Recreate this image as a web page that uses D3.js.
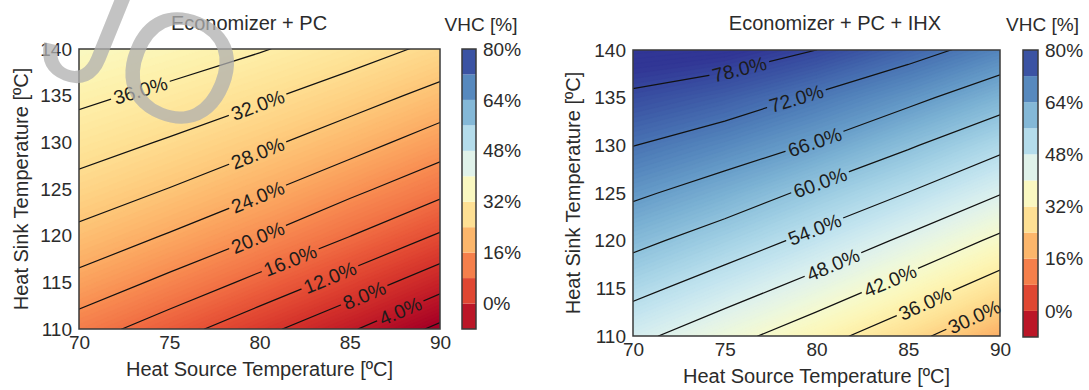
<!DOCTYPE html>
<html>
<head>
<meta charset="utf-8">
<script src="https://cdn.jsdelivr.net/npm/d3@7"></script>
<style>
  body { margin: 0; background: #fff; }
  text { font-family: "Liberation Sans", Arial, sans-serif; }
</style>
</head>
<body>
<svg id="chart" width="1089" height="390"></svg>
<script>
// Grid axes of both maps
const sourceTemps = [70, 75, 80, 85, 90]
const sinkTemps = [110, 115, 120, 125, 130, 135, 140]

// VHC [%], one row per sink temperature (110 -> 140),
// columns follow sourceTemps
const vhcPC = [
  [18.0, 13.8, 9.2, 4.5, -0.9],
  [22.7, 19.0, 14.9, 10.4, 5.6],
  [26.9, 23.7, 20.1, 16.1, 11.6],
  [30.6, 27.9, 24.7, 21.0, 17.2],
  [33.9, 31.6, 28.9, 25.7, 22.0],
  [36.9, 35.0, 32.7, 29.9, 26.7],
  [40.0, 38.3, 36.3, 33.9, 31.0]
]
const vhcPCIHX = [
  [49.5, 44.1, 38.3, 31.9, 24.4],
  [55.7, 50.9, 45.6, 39.6, 33.0],
  [61.5, 57.2, 52.4, 46.9, 40.8],
  [67.0, 63.3, 58.7, 53.9, 48.3],
  [72.1, 69.1, 65.5, 60.6, 55.4],
  [77.1, 74.8, 71.3, 67.4, 62.6],
  [81.9, 80.9, 78.0, 74.0, 69.7]
]

// contour line levels
const linesPC = [0, 4, 8, 12, 16, 20, 24, 28, 32, 36]
const linesPCIHX = [30, 36, 42, 48, 54, 60, 66, 72, 78]

// inline labels: level and the source temperature where it sits
const labelLevelsPC = [4, 8, 12, 16, 20, 24, 28, 32, 36]
const labelAtPC = [87.8, 85.8, 83.9, 81.7, 79.9, 79.9, 79.9, 79.9, 73.4]
const labelLevelsPCIHX = [30, 36, 42, 48, 54, 60, 66, 72, 78]
const labelAtPCIHX = [88.6, 85.9, 84.0, 80.9, 79.9, 80.2, 79.9, 78.9, 75.8]

// colorbar
const cbLevels = [-8, 0, 8, 16, 24, 32, 40, 48, 56, 64, 72, 80]
const cbTicks = [0, 16, 32, 48, 64, 80]

const svg = d3.select('#chart')
const ink = '#2b2b2b'
// shading of the maps is continuous, the colorbar is stepped
const shade = (v) => d3.interpolateRdYlBu(Math.max(0, Math.min(1, v / 80)))
const cbColor = (v) => d3.interpolateRdYlBu((v + 8) / 88)
// fine thresholds for the smooth fill
const fillSteps = d3.range(-4, 86, 0.5)

function drawPanel(p) {
  var x = d3.scaleLinear().domain([70, 90]).range([p.left, p.right])
  var y = d3.scaleLinear().domain([110, 140]).range([p.bottom, p.top])

  // grid cell centres -> data coordinates
  var nx = sourceTemps.length, ny = sinkTemps.length
  var gx = d3.scaleLinear().domain([0.5, nx - 0.5]).range([sourceTemps[0], sourceTemps[nx - 1]])
  var gy = d3.scaleLinear().domain([0.5, ny - 0.5]).range([sinkTemps[0], sinkTemps[ny - 1]])
  var path = d3.geoPath(d3.geoTransform({
    point: function (cx, cy) { this.stream.point(x(gx(cx)), y(gy(cy))) }
  }))

  var values = p.grid.flat()
  var contours = d3.contours().size([nx, ny])

  var defs = svg.append('defs')
  defs.append('clipPath').attr('id', p.id + '-clip')
    .append('rect')
    .attr('x', p.left).attr('y', p.top)
    .attr('width', p.right - p.left).attr('height', p.bottom - p.top)

  var g = svg.append('g').attr('clip-path', 'url(#' + p.id + '-clip)')

  // smooth fill
  fillSteps.forEach(function (t) {
    g.append('path')
      .attr('d', path(contours.contour(values, t)))
      .attr('fill', shade(t + 0.25))
      .attr('stroke', shade(t + 0.25))
      .attr('stroke-width', 0.4)
  })

  function onEdge(a, b) {
    return (a[0] === b[0] && (a[0] === 0 || a[0] === nx)) ||
      (a[1] === b[1] && (a[1] === 0 || a[1] === ny))
  }

  // y (pixels) of a contour at a given pixel x
  function yAt(level, px) {
    var geo = contours.contour(values, level)
    var found = null
    geo.coordinates.forEach(function (poly) {
      poly.forEach(function (ring) {
        for (var k = 0; k < ring.length - 1; k++) {
          if (onEdge(ring[k], ring[k + 1])) continue
          var ax = x(gx(ring[k][0])), ay = y(gy(ring[k][1]))
          var bx = x(gx(ring[k + 1][0])), by = y(gy(ring[k + 1][1]))
          if (ax === bx) continue
          if ((ax - px) * (bx - px) <= 0) {
            found = ay + (by - ay) * (px - ax) / (bx - ax)
          }
        }
      })
    })
    return found
  }

  // labels + a mask that opens a gap in the line under each label
  var mask = defs.append('mask').attr('id', p.id + '-mask')
    .attr('maskUnits', 'userSpaceOnUse')
    .attr('x', 0).attr('y', 0).attr('width', 1089).attr('height', 390)
  mask.append('rect').attr('x', 0).attr('y', 0).attr('width', 1089).attr('height', 390).attr('fill', '#fff')

  var lg = svg.append('g')
  p.labelLevels.forEach(function (lv, i) {
    var px = x(p.labelAt[i])
    var py = yAt(lv, px)
    var y1 = yAt(lv, px - 15), y2 = yAt(lv, px + 15)
    var angle = Math.atan2(y2 - y1, 30) * 180 / Math.PI
    var tr = 'translate(' + px + ',' + py + ') rotate(' + angle + ')'
    var t = lg.append('text')
      .attr('transform', tr)
      .attr('text-anchor', 'middle')
      .attr('dy', '0.36em')
      .attr('font-size', 19.5)
      .attr('fill', '#1c1c1c')
      .text(lv.toFixed(1) + '%')
    var w = t.node().getComputedTextLength()
    mask.append('rect')
      .attr('transform', tr)
      .attr('x', -w / 2 - 3).attr('y', -10)
      .attr('width', w + 6).attr('height', 20)
      .attr('fill', '#000')
  })

  // contour lines
  p.lines.forEach(function (lv) {
    g.append('path')
      .attr('d', path(contours.contour(values, lv)))
      .attr('fill', 'none')
      .attr('stroke', '#111')
      .attr('stroke-width', 1.2)
      .attr('mask', 'url(#' + p.id + '-mask)')
  })
  lg.raise()

  // frame
  svg.append('rect')
    .attr('x', p.left).attr('y', p.top)
    .attr('width', p.right - p.left).attr('height', p.bottom - p.top)
    .attr('fill', 'none').attr('stroke', '#3a3a3a').attr('stroke-width', 1.5)

  // axes
  svg.append('g')
    .attr('transform', 'translate(0,' + p.bottom + ')')
    .call(d3.axisBottom(x).tickValues(sourceTemps).tickSize(0).tickPadding(7))
    .call(function (a) { a.select('.domain').remove() })
    .attr('font-size', 19).attr('font-family', null).attr('color', ink)

  svg.append('g')
    .attr('transform', 'translate(' + p.left + ',0)')
    .call(d3.axisLeft(y).tickValues(sinkTemps).tickSize(0).tickPadding(7))
    .call(function (a) { a.select('.domain').remove() })
    .attr('font-size', 19).attr('font-family', null).attr('color', ink)

  svg.append('text')
    .attr('x', (p.left + p.right) / 2).attr('y', p.bottom + 47)
    .attr('text-anchor', 'middle').attr('font-size', 20).attr('fill', ink)
    .text('Heat Source Temperature [ºC]')

  svg.append('text')
    .attr('transform', 'translate(' + p.ylabelX + ',' + (p.top + p.bottom) / 2 + ') rotate(-90)')
    .attr('text-anchor', 'middle').attr('font-size', 20).attr('fill', ink)
    .text('Heat Sink Temperature [ºC]')

  svg.append('text')
    .attr('x', p.titleX).attr('y', 30)
    .attr('text-anchor', 'middle').attr('font-size', 20).attr('fill', ink)
    .text(p.title)

  // colorbar
  var cy = d3.scaleLinear().domain([cbLevels[0], cbLevels[cbLevels.length - 1]]).range([p.cbBottom, p.top])
  var cb = svg.append('g')
  cb.selectAll('rect')
    .data(d3.pairs(cbLevels))
    .enter()
    .append('rect')
    .attr('x', p.cbLeft)
    .attr('y', function (d) { return cy(d[1]) })
    .attr('width', p.cbWidth)
    .attr('height', function (d) { return cy(d[0]) - cy(d[1]) })
    .attr('fill', function (d) { return cbColor((d[0] + d[1]) / 2) })
  cb.append('rect')
    .attr('x', p.cbLeft).attr('y', p.top)
    .attr('width', p.cbWidth).attr('height', p.cbBottom - p.top)
    .attr('fill', 'none').attr('stroke', '#3a3a3a').attr('stroke-width', 1.5)

  svg.append('g')
    .attr('transform', 'translate(' + (p.cbLeft + p.cbWidth) + ',0)')
    .call(d3.axisRight(cy).tickValues(cbTicks).tickSize(0).tickPadding(7).tickFormat(function (d) { return d + '%' }))
    .call(function (a) { a.select('.domain').remove() })
    .attr('font-size', 19).attr('font-family', null).attr('color', ink)

  svg.append('text')
    .attr('x', p.cbLeft + p.cbWidth / 2 + 12).attr('y', 31)
    .attr('text-anchor', 'middle').attr('font-size', 19).attr('fill', ink)
    .text('VHC [%]')
}

drawPanel({
  id: 'pc', title: 'Economizer + PC', titleX: 249,
  grid: vhcPC, lines: linesPC,
  labelLevels: labelLevelsPC, labelAt: labelAtPC,
  left: 79, right: 440, top: 49, bottom: 329, ylabelX: 28,
  cbLeft: 462, cbWidth: 14, cbBottom: 329
})

drawPanel({
  id: 'ihx', title: 'Economizer + PC + IHX', titleX: 835,
  grid: vhcPCIHX, lines: linesPCIHX,
  labelLevels: labelLevelsPCIHX, labelAt: labelAtPCIHX,
  left: 633, right: 1000, top: 50, bottom: 336, ylabelX: 580,
  cbLeft: 1023, cbWidth: 15, cbBottom: 337
})

// watermark
svg.append('text')
  .attr('transform', 'translate(32,66) rotate(22)')
  .attr('font-size', 155)
  .attr('fill', '#b0b0b0')
  .attr('opacity', 0.75)
  .text('JO')
</script>
</body>
</html>
